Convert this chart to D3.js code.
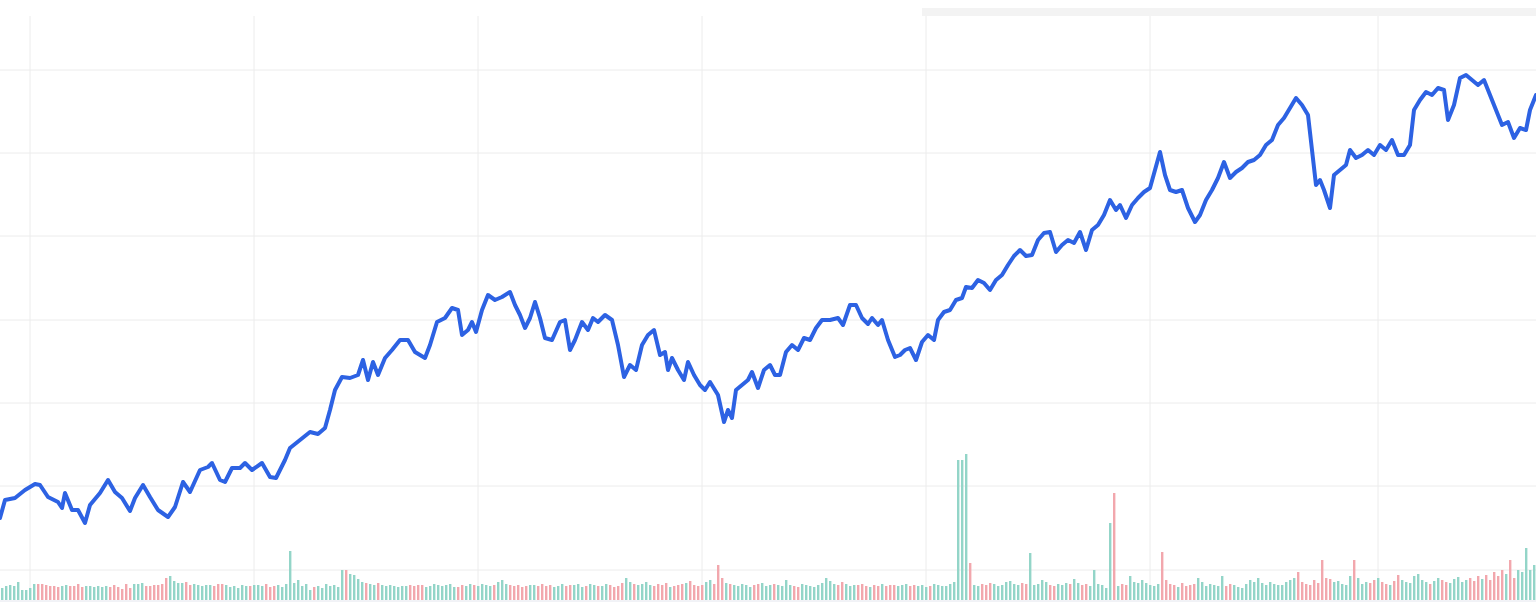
<!DOCTYPE html><html><head><meta charset="utf-8"><script src="https://cdn.jsdelivr.net/npm/d3@7"></script>
<style>body{margin:0;background:#fff}</style></head><body><svg id="c" width="1536" height="614"></svg>
<script>
const priceDays=[0,5,15,25,35,40,48,58,62,65,72,78,85,90,100,108,115,122,130,135,143,150,158,168,175,183,190,200,208,212,220,225,232,240,245,252,262,270,276,285,290,300,310,318,325,330,335,342,350,358,363,368,373,378,385,392,400,408,415,425,430,437,445,452,458,462,468,472,476,482,488,495,502,510,515,520,525,530,535,540,545,552,560,565,570,575,582,588,593,598,605,612,618,624,630,636,642,648,654,660,665,668,672,678,684,688,694,700,705,710,718,724,728,732,736,742,748,752,758,764,770,775,780,786,792,798,804,810,816,822,830,838,843,850,856,862,868,872,878,882,888,895,900,905,910,916,922,928,934,938,944,950,956,962,966,972,978,984,990,996,1002,1008,1014,1020,1026,1032,1038,1044,1050,1056,1062,1068,1074,1080,1086,1092,1098,1104,1110,1116,1120,1126,1132,1138,1144,1150,1155,1160,1165,1170,1176,1182,1188,1195,1200,1206,1212,1218,1224,1230,1236,1242,1248,1254,1260,1266,1272,1278,1284,1290,1296,1302,1308,1312,1316,1320,1324,1330,1334,1340,1346,1350,1356,1362,1368,1374,1380,1386,1392,1398,1404,1410,1414,1420,1426,1432,1438,1444,1448,1454,1460,1466,1472,1478,1484,1490,1496,1502,1508,1514,1520,1526,1530,1536];
const priceValues=[96,114,116,124,130,129,117,112,106,121,104,104,91,109,121,134,122,116,103,116,129,117,104,97,107,132,122,144,147,151,134,132,146,146,151,144,151,137,136,154,166,174,182,180,186,204,224,237,236,239,254,234,252,239,256,264,274,274,262,256,269,292,296,306,304,279,284,292,282,304,319,314,317,322,309,299,286,296,312,296,276,274,292,294,264,274,292,284,296,292,299,294,269,237,249,244,269,279,284,259,262,244,256,244,234,252,239,229,224,232,219,192,204,196,224,229,234,242,226,244,249,239,239,262,269,264,276,274,286,294,294,296,289,309,309,296,290,296,289,294,274,257,259,264,266,254,272,279,274,294,302,304,314,316,327,326,334,331,324,334,339,349,358,364,358,359,374,381,382,362,369,374,371,382,364,384,389,399,414,404,409,396,409,416,422,426,444,462,439,424,422,424,406,392,399,414,424,436,452,436,442,446,452,454,459,469,474,489,496,506,516,509,499,464,429,434,424,406,439,444,449,464,456,459,464,459,469,464,474,459,459,469,504,514,522,519,526,524,494,509,536,539,534,529,534,519,504,489,492,476,486,484,504,519];
const volumes=[
12,14,15,14,18,10,10,12,16,16,16,15,14,14,13,14,15,14,14,16,13,14,14,13,14,13,14,13,15,13,11,16,
12,16,16,17,14,14,15,15,16,22,24,19,17,17,18,15,16,15,14,15,15,14,16,16,15,13,14,12,15,14,14,15,
15,14,16,13,14,15,13,16,49,17,20,14,16,10,13,14,12,16,14,15,13,30,30,26,25,21,18,17,16,15,17,15,
14,15,14,13,14,14,15,14,15,15,13,14,16,15,14,15,16,13,13,15,14,16,15,14,16,15,14,15,18,20,16,15,
14,15,13,14,15,15,14,16,14,15,13,14,16,14,15,15,16,13,14,16,15,14,14,16,15,13,14,17,22,18,16,15,
16,18,15,14,16,15,17,13,14,15,16,17,19,15,14,15,18,20,16,35,22,17,16,15,14,16,15,13,15,16,17,14,
15,16,15,14,20,15,14,13,16,15,14,13,15,17,22,19,16,15,18,16,14,15,15,16,14,13,15,14,16,14,15,15,
14,15,16,14,15,14,15,13,14,16,15,14,14,16,18,140,140,146,37,15,14,16,15,17,16,14,15,18,19,16,15,17,
16,47,15,16,20,18,15,14,16,15,17,16,21,17,15,16,14,30,16,15,12,77,107,14,16,15,24,18,17,20,17,15,
14,16,48,20,16,15,13,17,14,15,16,22,18,14,16,15,14,24,14,16,15,13,12,16,20,18,22,17,15,18,16,15,
15,18,20,22,28,18,16,15,20,17,40,22,21,18,19,16,15,24,40,22,16,18,17,20,22,18,16,15,19,25,20,18,
17,24,26,20,18,16,19,22,20,18,17,21,23,18,20,22,19,24,21,25,20,28,24,30,26,40,22,30,28,52,30,35];
const gridValues=[44,128,211,294,378,461,544];
const gridDays=[30,254,478,702,926,1150,1378];

const svg=d3.select('#c');
const x=d3.scaleLinear().domain([0,1536]).range([0,1536]);
const y=d3.scaleLinear().domain([0,614]).range([614,0]);
const vy=d3.scaleLinear().domain([0,100]).range([600,500]);
svg.append('rect').attr('x',922).attr('y',8).attr('width',614).attr('height',8).attr('fill','#f3f3f3');
svg.selectAll('.h').data(gridValues).enter().append('line').attr('x1',0).attr('x2',1536)
 .attr('y1',d=>y(d)).attr('y2',d=>y(d)).attr('stroke','#ececec');
svg.selectAll('.v').data(gridDays).enter().append('line').attr('y1',16).attr('y2',600)
 .attr('x1',d=>x(d)).attr('x2',d=>x(d)).attr('stroke','#ececec');
svg.append('line').attr('x1',0).attr('x2',1536).attr('y1',601).attr('y2',601).attr('stroke','#e4e6ee');
const interp=d=>{const i=d3.bisectLeft(priceDays,d);if(i<=0)return priceValues[0];if(i>=priceDays.length)return priceValues[priceValues.length-1];
 const t=(d-priceDays[i-1])/(priceDays[i]-priceDays[i-1]);return priceValues[i-1]+t*(priceValues[i]-priceValues[i-1]);};
svg.selectAll('.b').data(volumes).enter().append('rect')
 .attr('x',(d,i)=>x(i*4+1)).attr('width',2.4).attr('y',d=>vy(d)).attr('height',d=>vy(0)-vy(d))
 .attr('fill',(d,i)=>interp(i*4+3)>=interp(i*4-1)?'#93d5c8':'#f2a7ad');
const pts=priceDays.map((d,i)=>[d,priceValues[i]]);
svg.append('path').datum(pts).attr('fill','none').attr('stroke','#2d62e3').attr('stroke-width',4)
 .attr('stroke-linejoin','round').attr('stroke-linecap','round')
 .attr('d',d3.line().x(d=>x(d[0])).y(d=>y(d[1])));
</script></body></html>
